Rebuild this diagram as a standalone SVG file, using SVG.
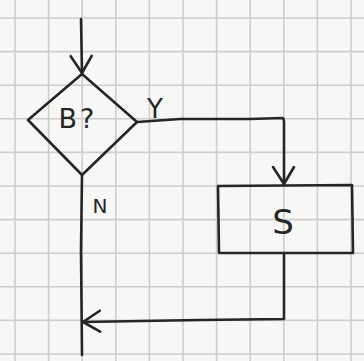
<svg xmlns="http://www.w3.org/2000/svg" width="364" height="361" viewBox="0 0 364 361">
  <defs>
    <style>
      .paper { fill: #f7f7f6; }
      .grid { fill: none; stroke: #cdcdcd; stroke-width: 1.6; }
      .ink { fill: none; stroke: #262626; stroke-width: 2.6; stroke-linecap: round; stroke-linejoin: round; }
      .label { font-family: "DejaVu Sans", "Liberation Sans", sans-serif; fill: #262626; text-anchor: middle; }
    </style>
    <!-- open chevron arrowhead, drawn freehand style -->
    <marker id="arrow" markerUnits="userSpaceOnUse" markerWidth="24" markerHeight="24" refX="0" refY="0" viewBox="-20 -12 22 24" orient="auto" overflow="visible">
      <path d="M -17 -10 L 0 0 L -17 11" fill="none" stroke="#262626" stroke-width="2.6" stroke-linecap="round" stroke-linejoin="round"/>
    </marker>
  </defs>

  <!-- squared paper -->
  <rect class="paper" x="0" y="0" width="364" height="361"/>
  <path class="grid" d="
    M15 0 V361 M48.6 0 V361 M82.2 0 V361 M115.8 0 V361 M149.4 0 V361 M183 0 V361
    M216.6 0 V361 M250.2 0 V361 M283.8 0 V361 M317.4 0 V361 M351 0 V361
    M0 18 H364 M0 51.6 H364 M0 85.2 H364 M0 118.8 H364 M0 152.4 H364 M0 186 H364
    M0 219.6 H364 M0 253.2 H364 M0 286.8 H364 M0 320.4 H364 M0 354 H364"/>

  <!-- connectors -->
  <g id="connectors">
    <path id="entry" class="ink" d="M81 19 L82 73" marker-end="url(#arrow)"/>
    <path id="yes-branch" class="ink" d="M137 122 L180 119 L250 119 L282 118 Q284 118 284 122 L284 184" marker-end="url(#arrow)"/>
    <path id="no-branch" class="ink" d="M82 175 L81 250 L82 355"/>
    <path id="loop-back" class="ink" d="M284 253 L284 319 L200 320 L83 322" marker-end="url(#arrow)"/>
    <text class="label" x="155" y="118" font-size="26">Y</text>
    <text class="label" x="100" y="213" font-size="20">N</text>
  </g>

  <!-- decision: B? -->
  <g id="decision">
    <path class="ink" d="M82 74 L137 122 L82 175 L28 120 Z"/>
    <text class="label" x="78" y="128" font-size="27" letter-spacing="3">B?</text>
  </g>

  <!-- statement: S -->
  <g id="statement">
    <path class="ink" d="M218 186 L352 185 L353 253 L219 253 Z"/>
    <text class="label" x="283" y="234" font-size="34">S</text>
  </g>
</svg>
